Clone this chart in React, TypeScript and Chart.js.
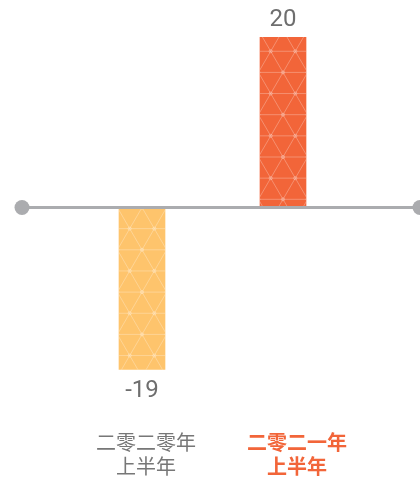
import React, { useEffect, useRef } from "react";
import { Chart, registerables } from "chart.js";

Chart.register(...registerables);

const categories: string[][] = [
  ["二零二零年", "上半年"],
  ["二零二一年", "上半年"],
];
const values: number[] = [-19, 20];
const valueLabels: string[] = ["-19", "20"];
const barColors: string[] = ["#FEC46C", "#F26539"];
const labelColors: string[] = ["#777777", "#F26539"];
const labelWeights: string[] = ["400", "700"];
const labelOffsets: number[] = [4, 14];
const patternPhase: number[] = [0, 8.2];

const App: React.FC = () => {
  const ref = useRef<HTMLCanvasElement | null>(null);

  useEffect(() => {
    if (!ref.current) return;

    const patternPlugin = {
      id: "trianglePattern",
      afterDatasetsDraw(chart: any) {
        const ctx = chart.ctx;
        const meta = chart.getDatasetMeta(0);
        const s = 24.6;
        const h = 21.15;
        meta.data.forEach((bar: any, i: number) => {
          const left = bar.x - bar.width / 2;
          const top = Math.min(bar.y, bar.base);
          const bh = Math.abs(bar.y - bar.base);
          ctx.save();
          ctx.beginPath();
          ctx.rect(left, top, bar.width, bh);
          ctx.clip();
          ctx.strokeStyle = "rgba(255,255,255,0.28)";
          ctx.lineWidth = 1;
          const cx = bar.x;
          const cy = bar.base - patternPhase[i];
          const rMin = Math.floor((top - cy) / h) - 1;
          const rMax = Math.ceil((top + bh - cy) / h) + 1;
          for (let r = rMin; r <= rMax; r++) {
            const vy = cy + r * h;
            const odd = Math.abs(r) % 2 === 1;
            ctx.beginPath();
            ctx.moveTo(left - 5, vy);
            ctx.lineTo(left + bar.width + 5, vy);
            ctx.stroke();
            for (let k = -4; k <= 4; k++) {
              const vx = cx + k * s + (odd ? s / 2 : 0);
              ctx.beginPath();
              ctx.moveTo(vx, vy);
              ctx.lineTo(vx + s / 2, vy + h);
              ctx.moveTo(vx, vy);
              ctx.lineTo(vx - s / 2, vy + h);
              ctx.stroke();
              ctx.beginPath();
              ctx.arc(vx, vy, 1.6, 0, Math.PI * 2);
              ctx.stroke();
            }
          }
          ctx.restore();
        });
      },
      afterDraw(chart: any) {
        const ctx = chart.ctx;
        const yScale = chart.scales.y;
        const xScale = chart.scales.x;
        const y0 = yScale.getPixelForValue(0);
        // axis line
        ctx.save();
        ctx.strokeStyle = "#ABACAF";
        ctx.lineWidth = 3;
        ctx.beginPath();
        ctx.moveTo(22, y0);
        ctx.lineTo(chart.width, y0);
        ctx.stroke();
        ctx.fillStyle = "#ABACAF";
        [22, chart.width].forEach((x) => {
          ctx.beginPath();
          ctx.arc(x, y0, 7.5, 0, Math.PI * 2);
          ctx.fill();
        });
        // value labels
        const meta = chart.getDatasetMeta(0);
        ctx.fillStyle = "#6E6E6E";
        ctx.font = "400 24px Roboto, 'Noto Sans', sans-serif";
        ctx.textAlign = "center";
        ctx.textBaseline = "alphabetic";
        meta.data.forEach((bar: any, i: number) => {
          const v = values[i];
          const ty = v >= 0 ? bar.y - 11 : bar.y + 28;
          ctx.fillText(valueLabels[i], bar.x, ty);
        });
        // category labels
        ctx.textBaseline = "middle";
        categories.forEach((lines, i) => {
          const x = xScale.getPixelForValue(i) + labelOffsets[i];
          ctx.fillStyle = labelColors[i];
          ctx.font = `${labelWeights[i]} 20px 'Noto Sans CJK SC', sans-serif`;
          lines.forEach((line, j) => {
            ctx.fillText(line, x, 442.5 + j * 24);
          });
        });
        ctx.restore();
      },
    };

    const chart = new Chart(ref.current, {
      type: "bar",
      data: {
        labels: categories.map((c) => c.join("")),
        datasets: [
          {
            data: values,
            backgroundColor: barColors,
            borderWidth: 0,
            barThickness: 46,
          },
        ],
      },
      options: {
        animation: false,
        responsive: false,
        events: [],
        layout: {
          padding: { left: 71.5, right: 66.5, top: 37, bottom: 69.9 },
        },
        plugins: {
          legend: { display: false },
          tooltip: { enabled: false },
          title: { display: false },
        },
        scales: {
          x: { display: false, offset: true },
          y: { display: false, min: -24, max: 20 },
        },
      },
      plugins: [patternPlugin],
    });
    return () => chart.destroy();
  }, []);

  return (
    <div style={{ position: "fixed", left: 0, top: 0, width: 420, height: 482, background: "#fff" }}>
      <canvas ref={ref} width={420} height={482} />
    </div>
  );
};

export default App;
